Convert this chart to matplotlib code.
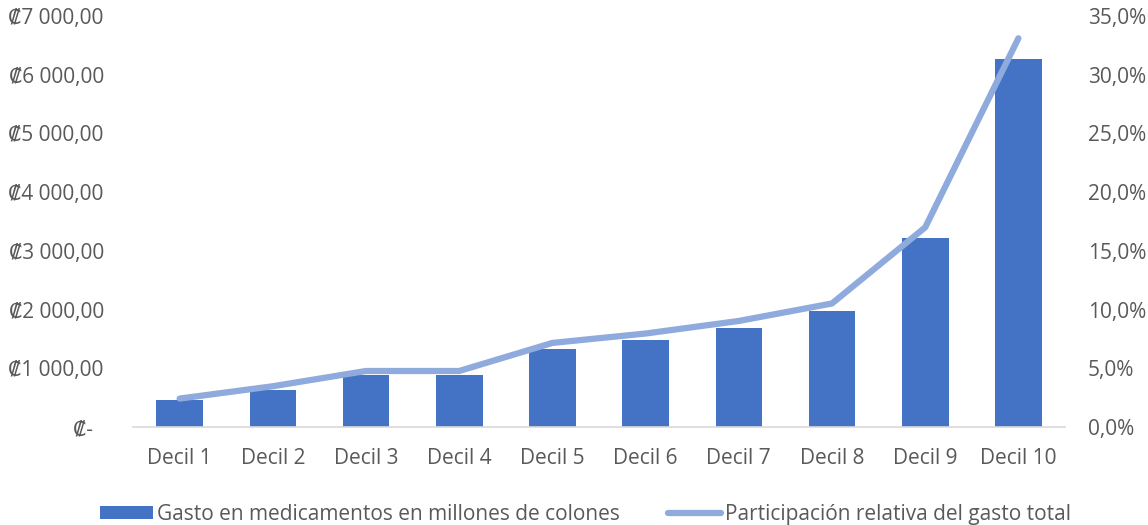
import matplotlib.pyplot as plt
from matplotlib.ticker import FuncFormatter, MultipleLocator
from matplotlib.patches import Patch
from matplotlib.lines import Line2D

plt.rcParams['font.family'] = ['Open Sans', 'DejaVu Sans']

# Datos por decil
deciles = ['Decil 1', 'Decil 2', 'Decil 3', 'Decil 4', 'Decil 5',
           'Decil 6', 'Decil 7', 'Decil 8', 'Decil 9', 'Decil 10']
gasto = [455, 637, 881, 881, 1336, 1490, 1682, 1984, 3221, 6262]
participacion = [2.42, 3.47, 4.77, 4.77, 7.16, 7.96, 9.03, 10.52, 17.0, 33.1]

COLOR_BAR = '#4472C4'
COLOR_LINE = '#8FAADC'
COLOR_TXT = '#595959'
FS = 15

fig = plt.figure(figsize=(11.48, 5.25), dpi=100)
ax = fig.add_axes([133 / 1148, 98 / 525, 932 / 1148, 411 / 525])
ax2 = ax.twinx()

x = range(len(deciles))
ax.bar(x, gasto, width=0.5, color=COLOR_BAR, zorder=2)
ax2.plot(x, participacion, color=COLOR_LINE, linewidth=4.5,
         solid_capstyle='round', solid_joinstyle='round', zorder=3)

ax.set_xlim(-0.5, len(deciles) - 0.5)
ax.set_ylim(0, 7000)
ax2.set_ylim(0, 35)
ax.yaxis.set_major_locator(MultipleLocator(1000))
ax2.yaxis.set_major_locator(MultipleLocator(5))


def colones(v, pos):
    if v == 0:
        return '₡-  '
    s = f'{v:,.2f}'.replace(',', ' ').replace('.', ',')
    return '₡' + s


ax.yaxis.set_major_formatter(FuncFormatter(colones))
ax2.yaxis.set_major_formatter(FuncFormatter(lambda v, p: f'{v:.1f}%'.replace('.', ',')))

ax.set_xticks(list(x))
ax.set_xticklabels(deciles)

for a in (ax, ax2):
    for s in a.spines.values():
        s.set_visible(False)
    a.tick_params(length=0, labelsize=FS, labelcolor=COLOR_TXT)
ax.spines['bottom'].set_visible(True)
ax.spines['bottom'].set_color('#D9D9D9')
ax.spines['bottom'].set_linewidth(1.2)
ax.tick_params(axis='y', pad=21)
ax.tick_params(axis='x', pad=15)
ax2.tick_params(axis='y', pad=16.5)

handles = [Patch(facecolor=COLOR_BAR),
           Line2D([], [], color=COLOR_LINE, linewidth=4.5, solid_capstyle='round')]
labels = ['Gasto en medicamentos en millones de colones',
          'Participación relativa del gasto total']
fig.legend(handles, labels, loc='lower center', bbox_to_anchor=(0.51, -0.035),
           ncol=2, frameon=False, fontsize=FS, labelcolor=COLOR_TXT,
           handlelength=2.55, handleheight=0.6, handletextpad=0.2,
           columnspacing=2.3)

fig.savefig('out.png', dpi=100, facecolor='white')
